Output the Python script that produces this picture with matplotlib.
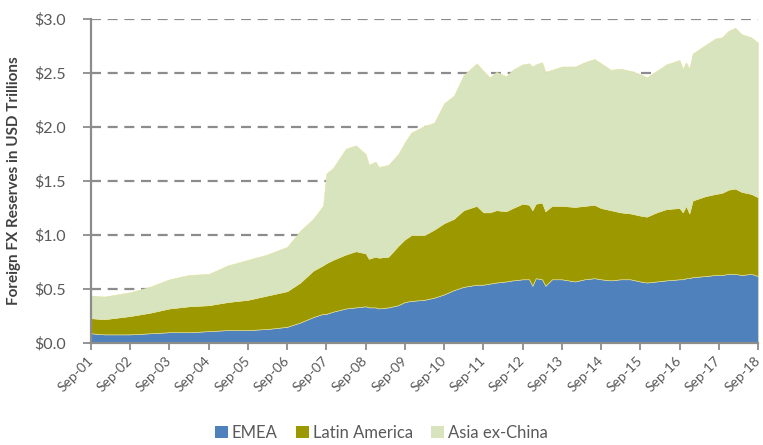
import matplotlib
matplotlib.use("Agg")
import matplotlib.pyplot as plt
import matplotlib.transforms as mtransforms
from matplotlib.patches import Patch
import datetime as dt

plt.rcParams['font.family'] = ['Lato', 'DejaVu Sans']

months = ["2001-09", "2002-01", "2002-09", "2003-03", "2003-09", "2004-03", "2004-09",
          "2005-03", "2005-09", "2006-03", "2006-09", "2007-01", "2007-05", "2007-08",
          "2007-09", "2007-11", "2008-03", "2008-06", "2008-09", "2008-10", "2008-12",
          "2009-01", "2009-04", "2009-07", "2009-09", "2009-11", "2010-03", "2010-06",
          "2010-09", "2010-12", "2011-03", "2011-07", "2011-09", "2011-11", "2012-01",
          "2012-04", "2012-06", "2012-09", "2012-11", "2012-12", "2013-01", "2013-03",
          "2013-04", "2013-06", "2013-09", "2014-01", "2014-04", "2014-07", "2014-09",
          "2014-12", "2015-03", "2015-06", "2015-09", "2015-11", "2016-02", "2016-05",
          "2016-09", "2016-10", "2016-11", "2016-12", "2017-01", "2017-05", "2017-08",
          "2017-10", "2017-12", "2018-02", "2018-04", "2018-07", "2018-09"]

emea = [0.09, 0.08, 0.08, 0.09, 0.10, 0.10, 0.11, 0.12, 0.12, 0.13, 0.15, 0.19, 0.24, 0.27,
        0.27, 0.29, 0.32, 0.33, 0.34, 0.33, 0.33, 0.32, 0.33, 0.35, 0.38, 0.39, 0.40, 0.42,
        0.45, 0.49, 0.52, 0.54, 0.54, 0.55, 0.56, 0.57, 0.58, 0.59, 0.59, 0.53, 0.60, 0.59,
        0.53, 0.59, 0.59, 0.57, 0.59, 0.60, 0.59, 0.58, 0.59, 0.59, 0.57, 0.56, 0.57, 0.58,
        0.59, 0.59, 0.60, 0.60, 0.61, 0.62, 0.63, 0.63, 0.64, 0.64, 0.63, 0.64, 0.62]

latam = [0.14, 0.14, 0.17, 0.19, 0.22, 0.24, 0.24, 0.26, 0.28, 0.31, 0.33, 0.37, 0.43, 0.45,
         0.47, 0.48, 0.50, 0.52, 0.49, 0.45, 0.47, 0.47, 0.47, 0.55, 0.58, 0.61, 0.60, 0.63,
         0.66, 0.66, 0.71, 0.73, 0.67, 0.66, 0.67, 0.65, 0.67, 0.70, 0.69, 0.70, 0.69, 0.71,
         0.69, 0.68, 0.68, 0.69, 0.68, 0.68, 0.66, 0.65, 0.62, 0.61, 0.61, 0.61, 0.64, 0.66,
         0.66, 0.62, 0.67, 0.60, 0.71, 0.74, 0.75, 0.76, 0.78, 0.79, 0.77, 0.74, 0.73]

asia = [0.21, 0.21, 0.22, 0.24, 0.27, 0.29, 0.29, 0.34, 0.37, 0.38, 0.41, 0.48, 0.48, 0.55,
        0.83, 0.85, 0.98, 0.98, 0.92, 0.87, 0.88, 0.84, 0.85, 0.85, 0.90, 0.95, 1.01, 0.99,
        1.11, 1.14, 1.25, 1.32, 1.31, 1.25, 1.28, 1.25, 1.28, 1.29, 1.31, 1.33, 1.29, 1.30,
        1.29, 1.26, 1.29, 1.30, 1.33, 1.35, 1.34, 1.30, 1.33, 1.32, 1.31, 1.29, 1.31, 1.34,
        1.37, 1.33, 1.33, 1.34, 1.36, 1.40, 1.44, 1.44, 1.47, 1.49, 1.46, 1.45, 1.43]

series_names = ["EMEA", "Latin America", "Asia ex-China"]
colors = ["#4F81BD", "#9C9800", "#D7E4BD"]
tick_years = list(range(2001, 2019))
y_ticks = [0.0, 0.5, 1.0, 1.5, 2.0, 2.5, 3.0]

dates = [dt.datetime.strptime(m, "%Y-%m") for m in months]

fig = plt.figure(figsize=(7.63, 4.45), dpi=100)
ax = fig.add_axes([0.1193, 0.2292, 0.8741, 0.7281])

ax.stackplot(dates, emea, latam, asia, colors=colors, zorder=2,
             edgecolor="#E6E3A0", linewidth=0.4)

ax.set_ylim(0, 3.0)
ax.set_xlim(dt.datetime(2001, 9, 1), dt.datetime(2018, 9, 1))
ax.set_yticks(y_ticks)
ax.set_yticklabels([f"${v:.1f}" for v in y_ticks], fontsize=11.5)
for v in y_ticks[1:]:
    ax.axhline(v, color="#8C8C8C", linestyle=(0, (4.5, 3)), linewidth=1.6, zorder=1)

xt = [dt.datetime(y, 9, 1) for y in tick_years]
ax.set_xticks(xt)
ax.set_xticklabels([f"Sep-{y % 100:02d}" for y in tick_years], rotation=45,
                   ha="right", va="center", rotation_mode="anchor", fontsize=10)
offset = mtransforms.ScaledTranslation(-3 / 100, -4 / 100, fig.dpi_scale_trans)
for lab in ax.get_xticklabels():
    lab.set_transform(lab.get_transform() + offset)

for s in ["top", "right"]:
    ax.spines[s].set_visible(False)
for s in ["left", "bottom"]:
    ax.spines[s].set_color("#8C8C8C")
    ax.spines[s].set_linewidth(1.6)
    ax.spines[s].set_zorder(3)
ax.tick_params(axis="both", colors="#8C8C8C", width=1.3, labelcolor="#595959")
ax.tick_params(axis="y", length=6, pad=12)
ax.tick_params(axis="x", length=5, pad=6)

ax.set_ylabel("Foreign FX Reserves in USD Trillions", fontsize=11, fontweight="bold",
              color="#404040", labelpad=6)
ax.yaxis.set_label_coords(-0.105, 0.5)

handles = [Patch(facecolor=c, edgecolor="none") for c in colors]
fig.legend(handles, series_names, loc="lower center", bbox_to_anchor=(0.5, -0.025),
           ncol=3, frameon=False, fontsize=12, handlelength=0.75, handleheight=0.75,
           handletextpad=0.25, columnspacing=1.1, labelcolor="#595959")

fig.savefig("out.png", dpi=100)
